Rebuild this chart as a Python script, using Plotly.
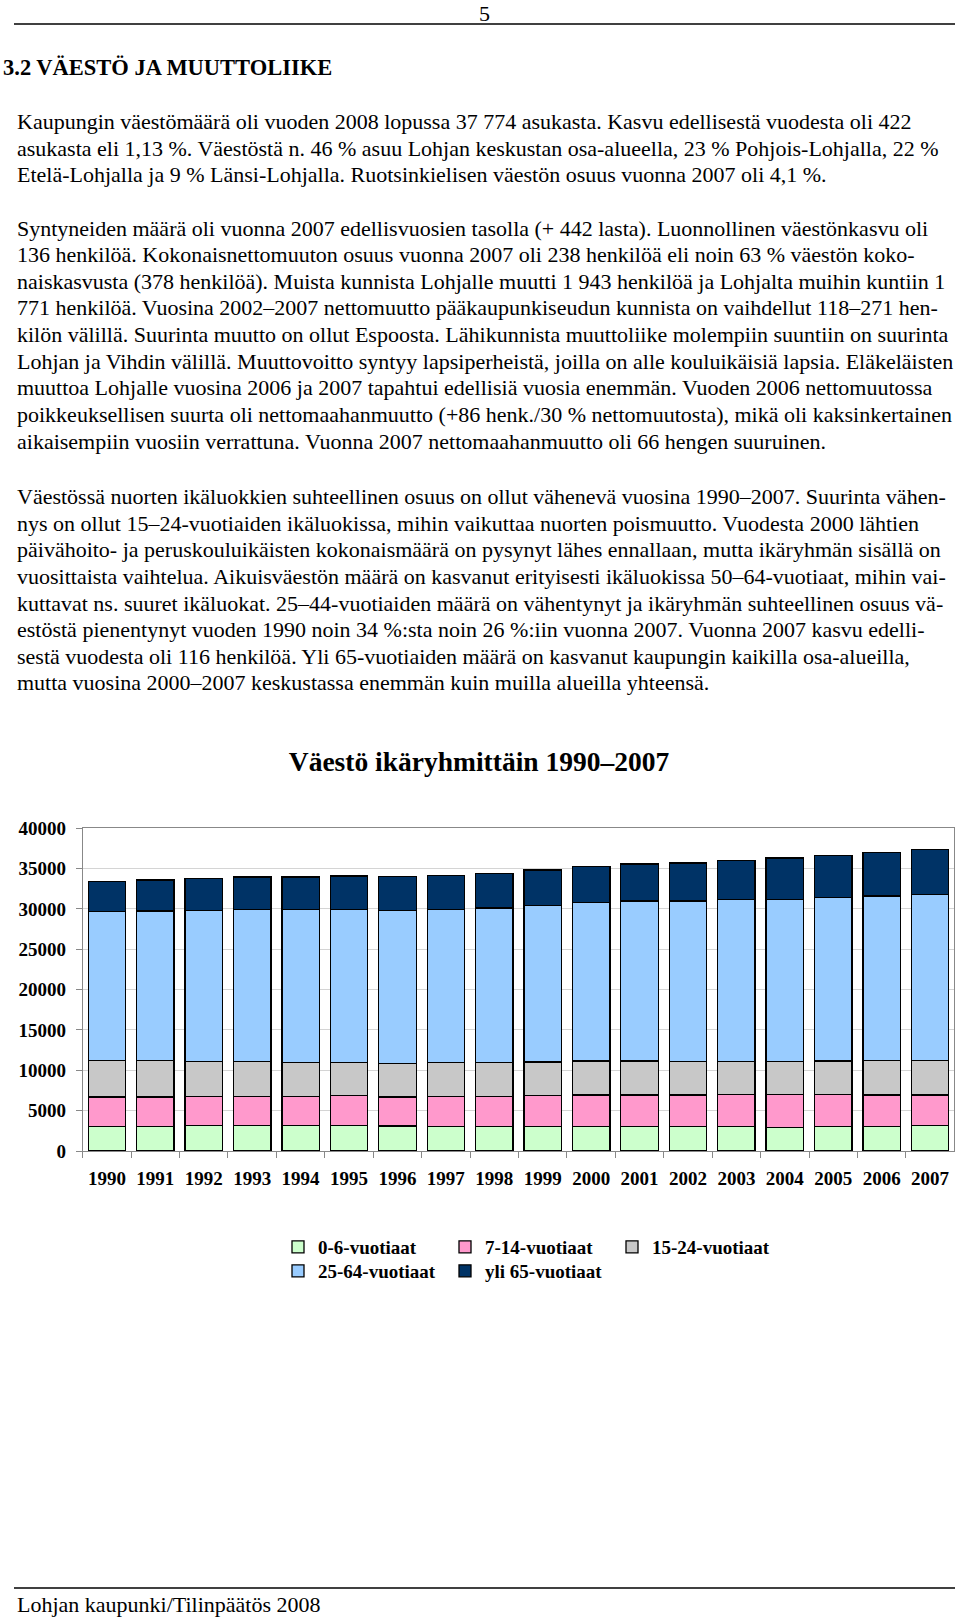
import plotly.graph_objects as go

W, H = 960, 1619
FONT = "Liberation Serif"

# ---------------- data ----------------
years = [str(y) for y in range(1990, 2008)]
series_names = ["0-6-vuotiaat", "7-14-vuotiaat", "15-24-vuotiaat", "25-64-vuotiaat", "yli 65-vuotiaat"]
age_0_6 = [3060, 3060, 3140, 3180, 3180, 3140, 3100, 3060, 3020, 3020, 3020, 3020, 3020, 3020, 2930, 3020, 3060, 3140]
age_7_14 = [3640, 3640, 3600, 3600, 3550, 3720, 3600, 3680, 3720, 3840, 3930, 3930, 3930, 3970, 4050, 3970, 3880, 3800]
age_15_24 = [4550, 4500, 4380, 4300, 4220, 4090, 4170, 4220, 4220, 4170, 4210, 4210, 4130, 4130, 4130, 4170, 4260, 4260]
age_25_64 = [18430, 18550, 18720, 18880, 19010, 19010, 18970, 19010, 19170, 19420, 19670, 19830, 19920, 20040, 20080, 20290, 20410, 20620]
age_65_plus = [3760, 3840, 3930, 4010, 4010, 4130, 4220, 4220, 4300, 4380, 4460, 4590, 4710, 4880, 5120, 5170, 5410, 5540]
series_colors = ["#ccffcc", "#ff99cc", "#c8c8c8", "#99ccff", "#003366"]

chart_title = "Väestö ikäryhmittäin 1990–2007"
heading = "3.2 VÄESTÖ JA MUUTTOLIIKE"
page_number = "5"
footer = "Lohjan kaupunki/Tilinpäätös 2008"

para1 = [
    "Kaupungin väestömäärä oli vuoden 2008 lopussa 37 774 asukasta. Kasvu edellisestä vuodesta oli 422",
    "asukasta eli 1,13 %. Väestöstä n. 46 % asuu Lohjan keskustan osa-alueella, 23 % Pohjois-Lohjalla, 22 %",
    "Etelä-Lohjalla ja 9 % Länsi-Lohjalla. Ruotsinkielisen väestön osuus vuonna 2007 oli 4,1 %.",
]
para2 = [
    "Syntyneiden määrä oli vuonna 2007 edellisvuosien tasolla (+ 442 lasta). Luonnollinen väestönkasvu oli",
    "136 henkilöä. Kokonaisnettomuuton osuus vuonna 2007 oli 238 henkilöä eli noin 63 % väestön koko-",
    "naiskasvusta (378 henkilöä). Muista kunnista Lohjalle muutti 1 943 henkilöä ja Lohjalta muihin kuntiin 1",
    "771 henkilöä. Vuosina 2002–2007 nettomuutto pääkaupunkiseudun kunnista on vaihdellut 118–271 hen-",
    "kilön välillä. Suurinta muutto on ollut Espoosta. Lähikunnista muuttoliike molempiin suuntiin on suurinta",
    "Lohjan ja Vihdin välillä. Muuttovoitto syntyy lapsiperheistä, joilla on alle kouluikäisiä lapsia. Eläkeläisten",
    "muuttoa Lohjalle vuosina 2006 ja 2007 tapahtui edellisiä vuosia enemmän. Vuoden 2006 nettomuutossa",
    "poikkeuksellisen suurta oli nettomaahanmuutto (+86 henk./30 % nettomuutosta), mikä oli kaksinkertainen",
    "aikaisempiin vuosiin verrattuna. Vuonna 2007 nettomaahanmuutto oli 66 hengen suuruinen.",
]
para3 = [
    "Väestössä nuorten ikäluokkien suhteellinen osuus on ollut vähenevä vuosina 1990–2007. Suurinta vähen-",
    "nys on ollut 15–24-vuotiaiden ikäluokissa, mihin vaikuttaa nuorten poismuutto. Vuodesta 2000 lähtien",
    "päivähoito- ja peruskouluikäisten kokonaismäärä on pysynyt lähes ennallaan, mutta ikäryhmän sisällä on",
    "vuosittaista vaihtelua. Aikuisväestön määrä on kasvanut erityisesti ikäluokissa 50–64-vuotiaat, mihin vai-",
    "kuttavat ns. suuret ikäluokat. 25–44-vuotiaiden määrä on vähentynyt ja ikäryhmän suhteellinen osuus vä-",
    "estöstä pienentynyt vuoden 1990 noin 34 %:sta noin 26 %:iin vuonna 2007. Vuonna 2007 kasvu edelli-",
    "sestä vuodesta oli 116 henkilöä. Yli 65-vuotiaiden määrä on kasvanut kaupungin kaikilla osa-alueilla,",
    "mutta vuosina 2000–2007 keskustassa enemmän kuin muilla alueilla yhteensä.",
]
series_values = [age_0_6, age_7_14, age_15_24, age_25_64, age_65_plus]


def px(x):
    return x / W


def py(y):
    return 1 - y / H


# ---------------- figure ----------------
fig = go.Figure()
for i, (name, vals, col) in enumerate(zip(series_names, series_values, series_colors)):
    fig.add_trace(go.Bar(
        x=years, y=vals, name=name,
        marker=dict(color=col, line=dict(color="#000000", width=1.3)),
        legend="legend" if i < 3 else "legend2",
    ))

plot_left, plot_right = 82.7, 954.3
plot_top, plot_bottom = 828.3, 1151.0

fig.update_layout(
    width=W, height=H, autosize=False,
    margin=dict(l=0, r=0, t=0, b=0, pad=0, autoexpand=False),
    paper_bgcolor="white", plot_bgcolor="white",
    barmode="stack", bargap=0.227,
    font=dict(family=FONT, color="#000000"),
    title=dict(text=chart_title, x=479 / W, y=py(761.5), xanchor="center", yanchor="middle",
               xref="paper", yref="paper", automargin=False,
               font=dict(family=FONT, size=27.5, weight="bold", color="#000000")),
    xaxis=dict(domain=[px(plot_left), px(plot_right)], type="category",
               showline=True, linecolor="#888888", linewidth=1, mirror=True,
               ticks="outside", tickson="boundaries", ticklen=6, tickcolor="#888888",
               showgrid=False, ticklabelstandoff=10, automargin=False,
               tickfont=dict(family=FONT, size=19, weight="bold", color="#000000")),
    yaxis=dict(domain=[py(plot_bottom), py(plot_top)], range=[0, 40000], dtick=5000,
               tickformat="d", showline=True, linecolor="#888888", linewidth=1, mirror=True,
               ticks="outside", ticklen=6, tickcolor="#888888",
               showgrid=True, gridcolor="#d4d4d4", gridwidth=1, zeroline=False,
               ticklabelstandoff=6, automargin=False,
               tickfont=dict(family=FONT, size=19, weight="bold", color="#000000")),
    legend=dict(orientation="h", x=px(278), y=py(1247), xanchor="left", yanchor="middle",
                entrywidth=122, entrywidthmode="pixels", traceorder="normal",
                borderwidth=0, bgcolor="rgba(0,0,0,0)",
                font=dict(family=FONT, size=19, weight="bold", color="#000000")),
    legend2=dict(orientation="h", x=px(278), y=py(1271), xanchor="left", yanchor="middle",
                 entrywidth=122, entrywidthmode="pixels", traceorder="normal",
                 borderwidth=0, bgcolor="rgba(0,0,0,0)",
                 font=dict(family=FONT, size=19, weight="bold", color="#000000")),
)

annotations = []


def add_text(text, x, y, size=22, bold=False, xanchor="left"):
    annotations.append(dict(
        text=text, x=px(x), y=py(y), xref="paper", yref="paper",
        xanchor=xanchor, yanchor="middle", showarrow=False,
        borderpad=0, borderwidth=0,
        font=dict(family=FONT, size=size, color="#000000", weight="bold" if bold else "normal"),
    ))


add_text(page_number, 484, 13.5, xanchor="center")
add_text(heading, 3, 67.2, size=22.5, bold=True)

LS = 26.64
for k, line in enumerate(para1):
    add_text(line, 17, 121.5 + k * LS)
for k, line in enumerate(para2):
    add_text(line, 17, 228.0 + k * LS)
for k, line in enumerate(para3):
    add_text(line, 17, 496.5 + k * LS)
add_text(footer, 17, 1604.5)

fig.update_layout(annotations=annotations)

fig.update_layout(shapes=[
    dict(type="line", xref="paper", yref="paper", x0=px(14), x1=px(955), y0=py(24), y1=py(24),
         line=dict(color="#000000", width=1.3)),
    dict(type="line", xref="paper", yref="paper", x0=px(14), x1=px(955), y0=py(1588), y1=py(1588),
         line=dict(color="#000000", width=1.3)),
])

fig.write_html(
    "out.html",
    config={"displayModeBar": False},
    post_script="document.body.style.margin='0';document.body.style.overflow='hidden';",
)
